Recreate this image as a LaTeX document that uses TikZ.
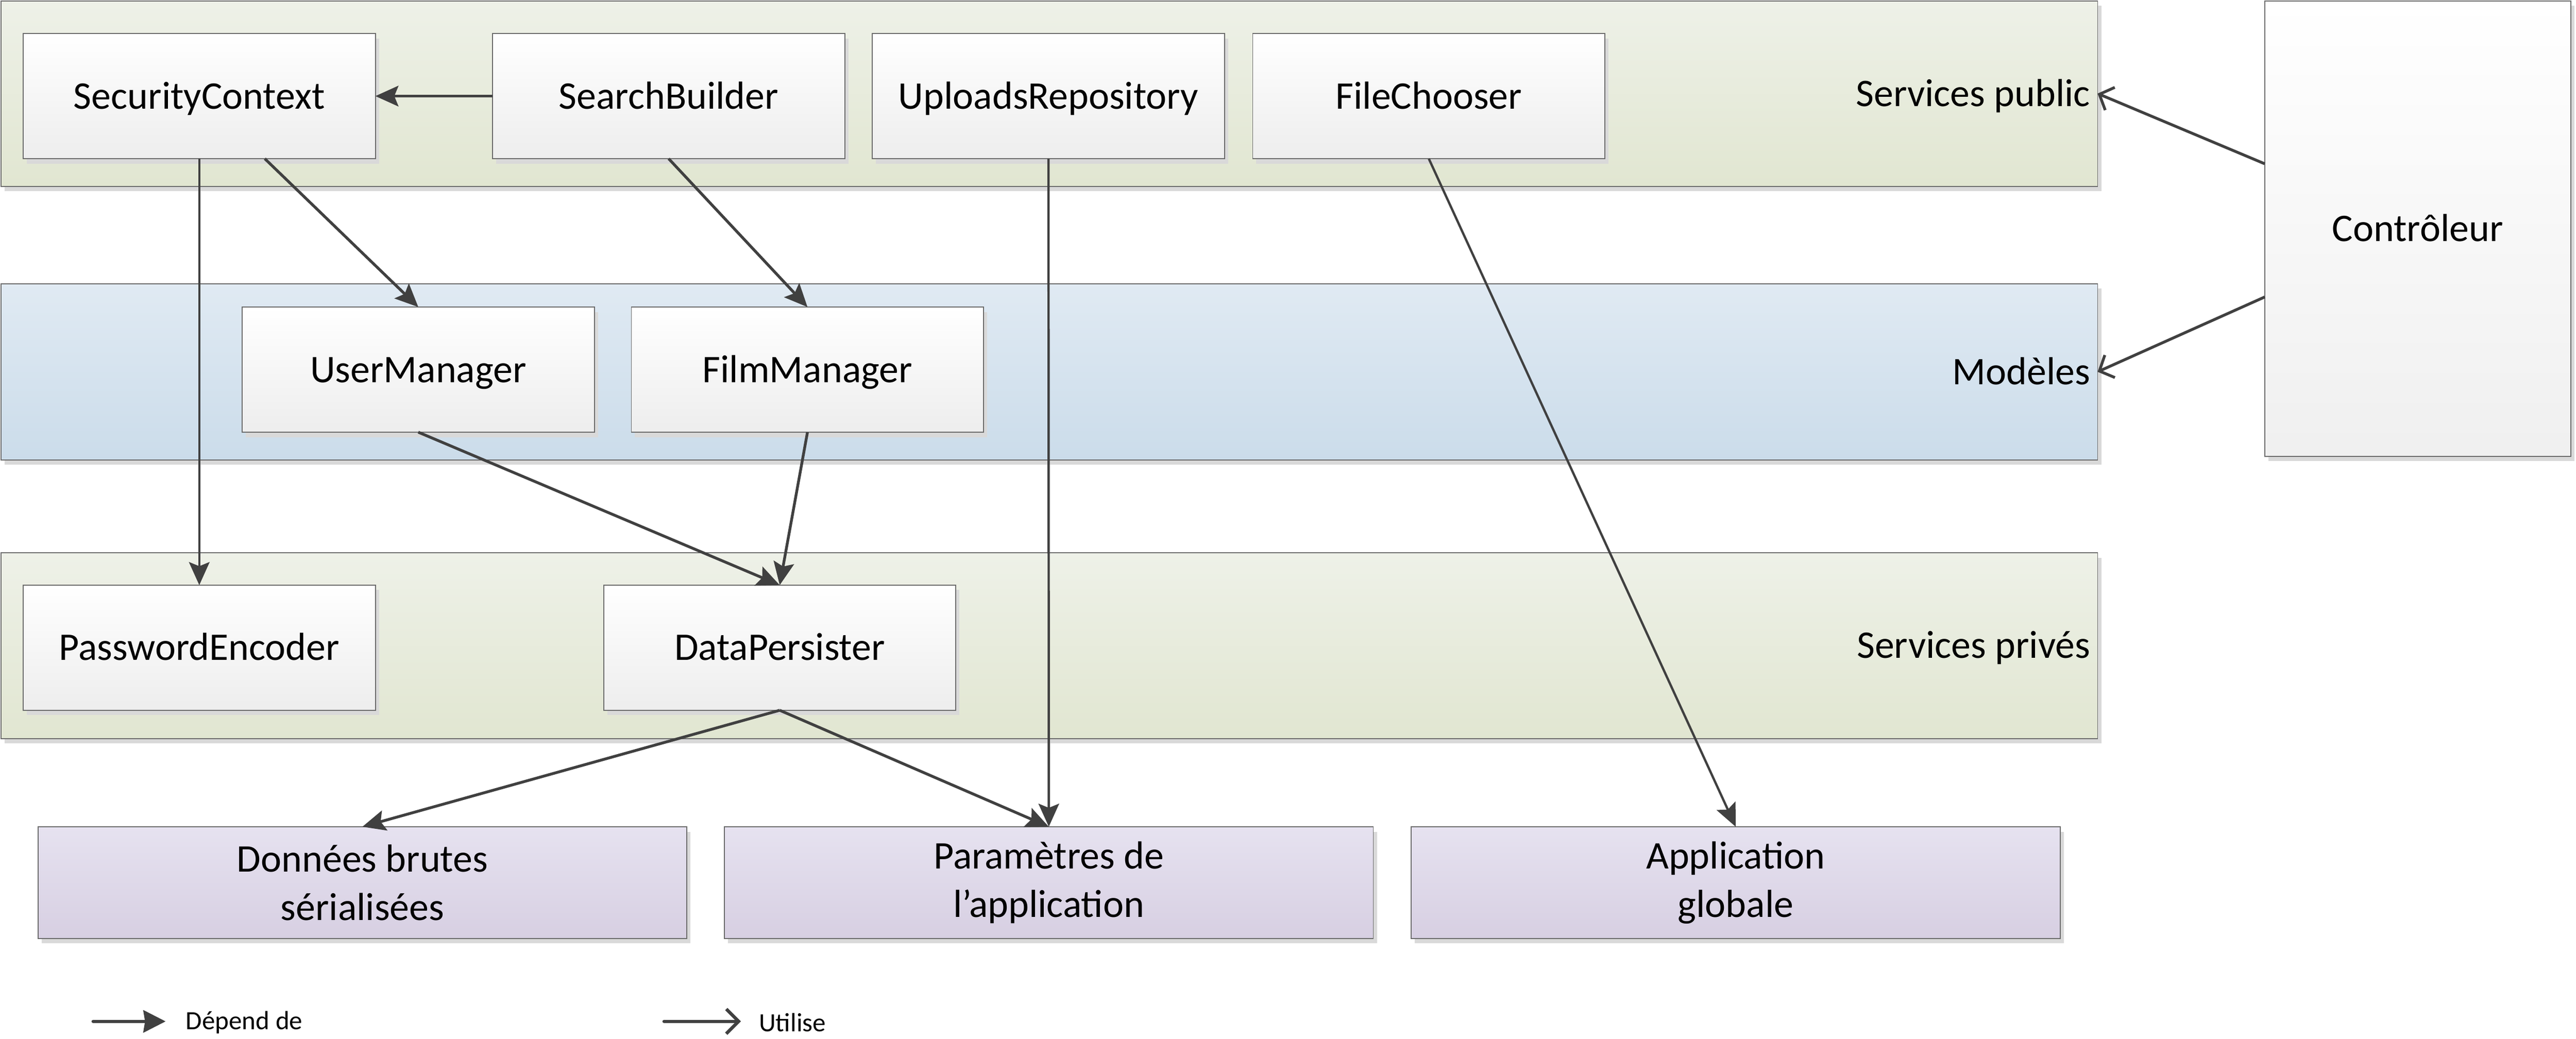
\documentclass[tikz,border=0pt]{standalone}
\usepackage{fontspec}
\setmainfont{Carlito}
\usetikzlibrary{arrows.meta,shadows,calc}
\definecolor{linec}{HTML}{404040}
\definecolor{borderc}{HTML}{6A6A6A}
\definecolor{gtop}{HTML}{EEF1E8}
\definecolor{gbot}{HTML}{E1E6D1}
\definecolor{btop}{HTML}{E0EAF3}
\definecolor{bbot}{HTML}{CBDCEA}
\definecolor{ptop}{HTML}{E6E2F0}
\definecolor{pbot}{HTML}{D7CFE2}
\definecolor{shadc}{HTML}{D9D9D9}
\tikzset{
  shad/.style={drop shadow={shadow xshift=2.2pt,shadow yshift=-3pt,fill=shadc,opacity=1}},
  txt/.style={text height=20pt,text depth=4.6pt,font=\fontsize{23.8}{29.4}\selectfont},
  band/.style={draw=borderc,line width=0.6pt,inner sep=0pt,outer sep=0pt,minimum width=1276.3pt,shad},
  greenband/.style={band,top color=gtop,bottom color=gbot},
  blueband/.style={band,top color=btop,bottom color=bbot},
  classbox/.style={draw=borderc,line width=0.6pt,inner sep=0pt,outer sep=0pt,minimum width=214.4pt,minimum height=76.2pt,top color=white,bottom color=black!7,shad,txt},
  databox/.style={draw=borderc,line width=0.6pt,inner sep=0pt,outer sep=0pt,minimum width=395pt,minimum height=68pt,top color=ptop,bottom color=pbot,shad,align=center,font=\fontsize{23.8}{29.4}\selectfont},
  bandlabel/.style={anchor=east,inner sep=0pt,txt},
  dep/.style={draw=linec,line width=1.7pt,-{Stealth[length=14pt,width=12.5pt,inset=2.5pt]}},
  uses/.style={draw=linec,line width=1.7pt,-{Straight Barb[length=7pt,width=15pt]}},
  legtext/.style={anchor=west,inner sep=0pt,font=\fontsize{16}{18}\selectfont},
}
\begin{document}
\begin{tikzpicture}[x=1pt,y=-1pt]
\useasboundingbox[fill=white] (0,0) rectangle (1568,632.5);
% bands
\node[greenband,minimum height=112.9pt] (pub) at (638.65,56.95) {};
\node[blueband,minimum height=107.3pt] (mod) at (638.65,226.35) {};
\node[greenband,minimum height=113.1pt] (priv) at (638.65,393.05) {};
\node[bandlabel] (publbl) at (1272.5,57) {Services public};
\node[bandlabel] (modlbl) at (1272.5,226.4) {Modèles};
\node[bandlabel] (privlbl) at (1272.5,393) {Services privés};
% controller
\node[draw=borderc,line width=0.6pt,inner sep=0pt,outer sep=0pt,minimum width=186.2pt,minimum height=277.2pt,top color=white,bottom color=black!6,shad,txt] (ctrl) at (1471.6,139.1) {Contrôleur};
% public services
\node[classbox] (sc) at (121.3,58.5) {SecurityContext};
\node[classbox] (sb) at (407,58.5) {SearchBuilder};
\node[classbox] (ur) at (638.2,58.5) {UploadsRepository};
\node[classbox] (fc) at (869.7,58.5) {FileChooser};
% models
\node[classbox] (um) at (254.6,225) {UserManager};
\node[classbox] (fm) at (491.5,225) {FilmManager};
% private services
\node[classbox] (pe) at (121.3,394.3) {PasswordEncoder};
\node[classbox] (dp) at (474.6,394.3) {DataPersister};
% data
\node[databox] (don) at (220.6,537.3) {Données brutes\\sérialisées};
\node[databox] (par) at (638.4,537.3) {Paramètres de\\l’application};
\node[databox] (app) at (1056.5,537.3) {Application\\globale};
% connectors
\draw[dep] (sb.west) -- (sc.east);
\draw[dep] ($(sc.south west)!0.686!(sc.south east)$) -- (um.north);
\draw[dep] (sb.south) -- (fm.north);
\draw[dep,line width=1.4pt] (sc.south) -- (pe.north);
\draw[dep] (um.south) -- (dp.north);
\draw[dep] (fm.south) -- (dp.north);
\draw[dep] (dp.south) -- (don.north);
\draw[dep] (dp.south) -- (par.north);
\draw[dep,line width=1.4pt] (ur.south) -- (par.north);
\draw[dep,line width=1.4pt] (fc.south) -- (app.north);
\draw[uses] ($(ctrl.north west)+(0,99.2)$) -- (pub.east);
\draw[uses] ($(ctrl.north west)+(0,180.3)$) -- (mod.east);
% legend
\coordinate (l1a) at (56.7,621.8);
\coordinate (l1b) at (100.8,621.8);
\coordinate (l2a) at (404.2,621.8);
\coordinate (l2b) at (451,621.8);
\draw[line width=2pt,draw=linec,line cap=round,-{Stealth[length=13.5pt,width=13.5pt,inset=1pt]}] (l1a) -- (l1b);
\draw[line width=2pt,draw=linec,line cap=round,-{Straight Barb[length=7.5pt,width=15pt]}] (l2a) -- (l2b);
\node[legtext] (leg1) at (113,622.5) {Dépend de};
\node[legtext] (leg2) at (461.8,622.5) {Utilise};
\end{tikzpicture}
\end{document}
